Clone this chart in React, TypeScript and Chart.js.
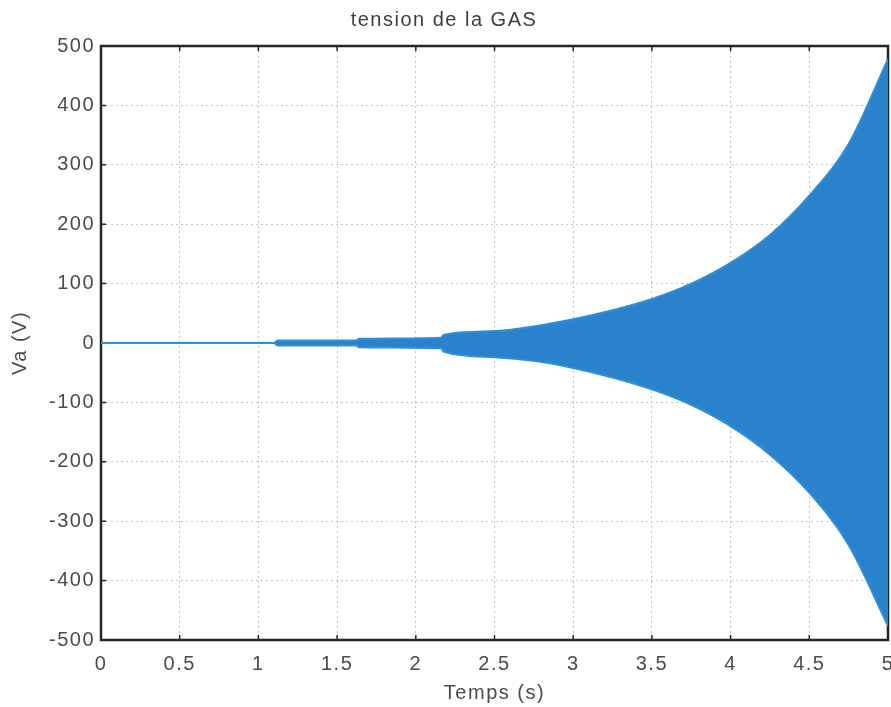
import React, { useEffect, useRef } from "react";
import { Chart, registerables } from "chart.js";

Chart.register(...registerables);

// Envelope of the oscillating voltage
const timeS = [0, 1.1, 1.12, 1.62, 1.64, 2.16, 2.18, 2.5, 2.75, 3.0, 3.25, 3.5, 3.75, 4.0, 4.25, 4.5, 4.75, 5.0];
const vaUpper = [0, 0, 4, 4, 7, 9, 14, 20, 28, 40, 55, 74, 100, 135, 182, 248, 335, 478];
const vaLower = [0, 0, -4, -4, -7, -9, -15, -24, -30, -42, -58, -78, -104, -140, -188, -252, -340, -476];

const xTickValues = [0, 0.5, 1, 1.5, 2, 2.5, 3, 3.5, 4, 4.5, 5];
const xTickLabels = ["0", "0.5", "1", "1.5", "2", "2.5", "3", "3.5", "4", "4.5", "5"];
const yTickValues = [-500, -400, -300, -200, -100, 0, 100, 200, 300, 400, 500];
const yTickLabels = ["-500", "-400", "-300", "-200", "-100", "0", "100", "200", "300", "400", "500"];

const chartTitle = "tension de la GAS";
const xTitle = "Temps (s)";
const yTitle = "Va (V)";

const FONT = "'Liberation Sans', Arial, Helvetica, sans-serif";
const TEXT_COLOR = "#4a4d48";
const GRID_COLOR = "#c3c9b2";
const SIGNAL_LINE = "#2f8fd6";
const SIGNAL_FILL = "#2a82cc";

const framePlugin = {
  id: "matlabFrame",
  beforeDraw(chart: any) {
    (chart.ctx as any).letterSpacing = "1.5px";
  },
  beforeDatasetsDraw(chart: any) {
    const { ctx, chartArea: a, scales } = chart;
    ctx.save();
    (ctx as any).letterSpacing = "0px";
    ctx.strokeStyle = "#262626";
    ctx.lineWidth = 2.5;
    ctx.strokeRect(a.left, a.top, a.right - a.left, a.bottom - a.top);
    ctx.lineWidth = 1.5;
    const L = 5;
    ctx.beginPath();
    for (const v of xTickValues) {
      const x = scales.x.getPixelForValue(v);
      ctx.moveTo(x, a.bottom);
      ctx.lineTo(x, a.bottom - L);
      ctx.moveTo(x, a.top);
      ctx.lineTo(x, a.top + L);
    }
    for (const v of yTickValues) {
      const y = scales.y.getPixelForValue(v);
      ctx.moveTo(a.left, y);
      ctx.lineTo(a.left + L, y);
      ctx.moveTo(a.right, y);
      ctx.lineTo(a.right - L, y);
    }
    ctx.stroke();
    ctx.restore();
  },
};

export default function App() {
  const ref = useRef<HTMLCanvasElement>(null);

  useEffect(() => {
    document.body.style.margin = "0";
    const font = { family: FONT, size: 20, weight: "normal" as const };
    const chart = new Chart(ref.current!, {
      type: "line",
      data: {
        datasets: [
          {
            data: timeS.map((t, i) => ({ x: t, y: vaUpper[i] })),
            borderColor: SIGNAL_LINE,
            borderWidth: 2,
            pointRadius: 0,
            fill: false,
            cubicInterpolationMode: "monotone",
          },
          {
            data: timeS.map((t, i) => ({ x: t, y: vaLower[i] })),
            borderColor: SIGNAL_LINE,
            borderWidth: 2,
            pointRadius: 0,
            fill: "-1",
            backgroundColor: SIGNAL_FILL,
            cubicInterpolationMode: "monotone",
          },
        ],
      },
      options: {
        animation: false,
        responsive: false,
        layout: { padding: { left: 0, right: 3, top: 0, bottom: 0 } },
        plugins: {
          legend: { display: false },
          tooltip: { enabled: false },
          title: {
            display: true,
            text: chartTitle,
            color: "#3d403b",
            font,
            padding: { top: 8, bottom: 14 },
          },
        },
        scales: {
          x: {
            type: "linear",
            min: 0,
            max: 5,
            afterBuildTicks: (s: any) => {
              s.ticks = xTickValues.map((v) => ({ value: v }));
            },
            afterFit: (s: any) => {
              s.height = 67;
              s.paddingLeft = 0;
              s.paddingRight = 0;
            },
            grid: { color: GRID_COLOR, drawTicks: false, lineWidth: 1 },
            border: { display: false, dash: [2, 3] },
            ticks: {
              padding: 12,
              color: TEXT_COLOR,
              font,
              maxRotation: 0,
              autoSkip: false,
              callback: (_v: any, i: number) => xTickLabels[i],
            },
            title: { display: true, text: xTitle, color: TEXT_COLOR, font, padding: { top: 0, bottom: 2 } },
          },
          y: {
            type: "linear",
            min: -500,
            max: 500,
            afterBuildTicks: (s: any) => {
              s.ticks = yTickValues.map((v) => ({ value: v }));
            },
            afterFit: (s: any) => {
              s.width = 101;
              s.paddingTop = 0;
              s.paddingBottom = 0;
            },
            grid: { color: GRID_COLOR, drawTicks: false, lineWidth: 1 },
            border: { display: false, dash: [2, 3] },
            ticks: {
              padding: 6,
              color: TEXT_COLOR,
              font,
              autoSkip: false,
              callback: (_v: any, i: number) => yTickLabels[i],
            },
            title: { display: true, text: yTitle, color: TEXT_COLOR, font, padding: { top: 8, bottom: 0 } },
          },
        },
      },
      plugins: [framePlugin],
    } as any);
    return () => chart.destroy();
  }, []);

  return (
    <div style={{ position: "fixed", left: 0, top: 0, width: 891, height: 707, background: "#fff" }}>
      <canvas ref={ref} width={891} height={707} style={{ display: "block" }} />
    </div>
  );
}
